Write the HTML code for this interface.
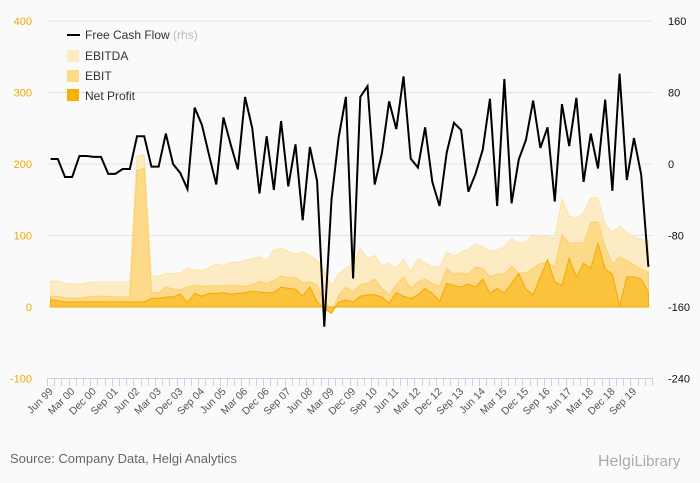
<!DOCTYPE html>
<html><head><meta charset="utf-8"><style>
body{margin:0;background:#fafafa;}
svg{display:block;font-family:"Liberation Sans",sans-serif;}
</style></head><body>
<svg id="chart" width="700" height="483" viewBox="0 0 700 483">
<rect width="700" height="483" fill="#fafafa"/>
<g id="grid"></g><g id="areas"></g><g id="line"></g><g id="axes"></g>
<g>
<line x1="67" y1="35" x2="80" y2="35" stroke="#000" stroke-width="2"/>
<text x="85" y="39" font-size="12" fill="#333">Free Cash Flow <tspan fill="#bbb">(rhs)</tspan></text>
<rect x="67" y="50" width="12" height="12" fill="#fdebc3"/>
<text x="85" y="60" font-size="12" fill="#333">EBITDA</text>
<rect x="67" y="70" width="12" height="12" fill="#fdd98a"/>
<text x="85" y="80" font-size="12" fill="#333">EBIT</text>
<rect x="67" y="89" width="12" height="12" fill="#f9b000"/>
<text x="85" y="100" font-size="12" fill="#333">Net Profit</text>
</g>
<text x="10" y="463" font-size="13" fill="#666">Source: Company Data, Helgi Analytics</text>
<text x="598" y="466" font-size="16" fill="#aaa">Helgi<tspan font-size="15">Library</tspan></text>
</svg>
<script>
const leftTicks=[400,300,200,100,0,-100];
const rightTicks=[160,80,0,-80,-160,-240];
const fcf=[5.6,5.6,-14.5,-14.5,9,9,8,8,-11,-11,-5.6,-5.6,31,31,-3,-3,34,0,-10,-28,63,44,10,-23,52,22,-6,75,40,-33,31,-29,48,-25,22,-63,19,-19,-182,-40,30,75,
-128,75,87,-23,12,70,39,98,6,-4,41,-20,-47,13,46,38,-31,-11,16,73,-47,95,-44,5,27,71,18,41,-42,67,20,74,-20,34,-5,72,-30,101,-18,29,-12,-115];
const ebitda=[36,36,33,32,32,34,35,35,35,35,35,35,211,213,43,43,47,47,47,54,52,51,55,60,58,63,62,66,67,70,65,80,82,78,74,77,72,66,50,30,46,55,
60,83,68,72,58,61,54,67,50,68,62,56,56,77,71,77,81,88,84,77,80,84,96,89,91,101,99,98,96,151,127,124,131,153,152,116,104,113,104,98,95,92];
const ebit=[15,15,13,12,12,14,15,15,15,14,14,14,191,194,20,20,28,25,24,28,30,29,30,29,30,30,30,29,31,36,33,37,43,41,41,34,35,31,10,-7,16,28,
21,31,33,39,26,17,31,42,26,35,39,33,29,54,46,48,46,56,54,42,46,46,57,47,48,54,61,62,56,101,89,90,89,118,119,84,60,70,65,59,53,48];
const netProfit=[10,9,7,7,7,7,7,7,7,7,7,7,7,7,12,12,14,14,18,6,19,15,19,19,20,18,19,20,22,21,20,20,28,26,25,15,28,7,-2,-9,7,10,
7,15,17,17,14,5,20,15,12,17,26,19,8,33,30,28,32,28,39,19,26,19,33,47,25,17,42,66,35,30,68,42,61,54,89,53,46,1,42,42,39,21];
const labels=[];
(function(){const m=['Mar','Jun','Sep','Dec'];let q=1,y=1999;for(let i=0;i<84;i++){labels.push(m[q]+' '+String(y%100).padStart(2,'0'));q++;if(q>3){q=0;y++;}}})();

const NS='http://www.w3.org/2000/svg';
const X0=47,X1=652,N=fcf.length,band=(X1-X0)/N;
const xs=i=>X0+band*(i+0.5);
const yL=v=>307-(v)*0.715;
const yR=v=>164-(v)*(71.5/80);
function el(t,a,p){const e=document.createElementNS(NS,t);for(const k in a)e.setAttribute(k,a[k]);document.getElementById(p).appendChild(e);return e;}

leftTicks.forEach((t,i)=>{
 const y=yL(t);
 if(t!==-100){const g=el('line',{x1:X0,x2:X1,y1:y,y2:y,stroke:'#e2e2e2','stroke-width':1},'grid');
 
 }
 const tx=el('text',{x:32,y:y+4,'text-anchor':'end','font-size':11,fill:'#f5a800'},'axes');tx.textContent=t;
 
 
 const r=el('text',{x:668,y:yR(rightTicks[i])+4,'font-size':11,fill:'#111'},'axes');r.textContent=rightTicks[i];
 
 
});
const base=el('line',{x1:X0,x2:X1,y1:378.5,y2:378.5,stroke:'#c8d2e4'},'axes');


for(let i=0;i<=N;i++){const x=Math.round(X0+band*i)+0.5;
 const t=el('line',{x1:x,x2:x,y1:378,y2:386,stroke:'#c8d2e4'},'axes');
 
 }
for(let i=0;i<N;i+=3){const x=xs(i)+3,y=392;
 const t=el('text',{x:x,y:y,'text-anchor':'end','font-size':10.5,fill:'#555',transform:`rotate(-45 ${x} ${y})`},'axes');t.textContent=labels[i];
 
 }

function area(data,fill,stroke,name){
 let d='M'+xs(0)+','+yL(0);data.forEach((v,i)=>d+='L'+xs(i)+','+yL(v));d+='L'+xs(N-1)+','+yL(0)+'Z';
 const p=el('path',{d:d,fill:fill,stroke:stroke,'stroke-width':1},'areas');
 
 
}
area(ebitda,'#fdebc3','#fde3a8','ebitda-area');
area(ebit,'#fdd98a','#fccf6a','ebit-area');
area(netProfit,'#fbc23c','#f5a800','net-profit-area');
let d='';fcf.forEach((v,i)=>d+=(i?'L':'M')+xs(i)+','+yR(v));
const ln=el('path',{d:d,fill:'none',stroke:'#000','stroke-width':2,'stroke-linejoin':'miter'},'line');


</script>
</body></html>
